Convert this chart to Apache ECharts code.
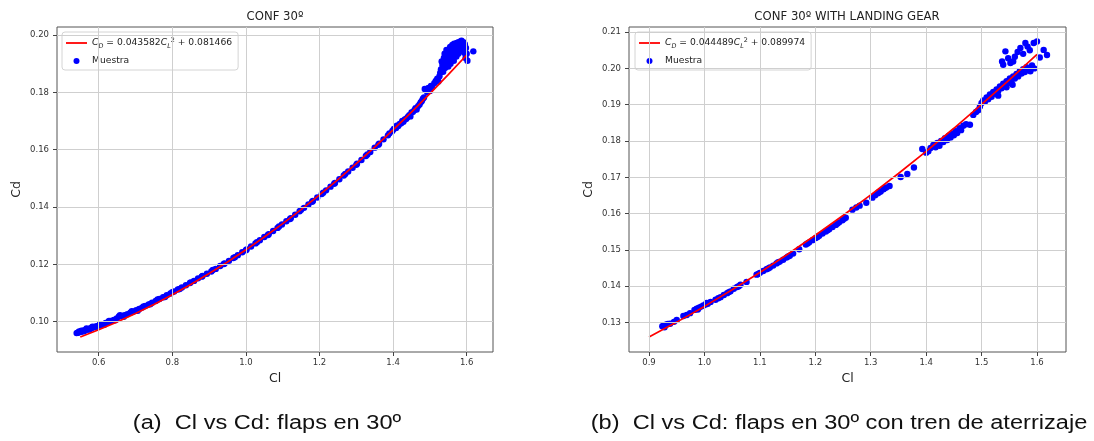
<!DOCTYPE html>
<html>
<head>
<meta charset="utf-8">
<script src="https://cdn.jsdelivr.net/npm/echarts@6/dist/echarts.min.js"></script>
<style>
html,body{margin:0;padding:0;background:#fff;}
#chart{width:1094px;height:441px;}
</style>
</head>
<body>
<div id="chart"></div>
<script>
// ---------- Titles / captions ----------
const titleA = 'CONF 30º';
const titleB = 'CONF 30º WITH LANDING GEAR';
const captionA = '(a)  Cl vs Cd: flaps en 30º';
const captionB = '(b)  Cl vs Cd: flaps en 30º con tren de aterrizaje';
const sampleName = 'Muestra';

// ---------- Fit coefficients (C_D = k*C_L^2 + c) ----------
const coefA = ['0.043582', '0.081466'];
const coefB = ['0.044489', '0.089974'];

// ---------- Tick values ----------
const xTicksA = [0.6, 0.8, 1.0, 1.2, 1.4, 1.6];
const yTicksA = [0.10, 0.12, 0.14, 0.16, 0.18, 0.20];
const xTicksB = [0.9, 1.0, 1.1, 1.2, 1.3, 1.4, 1.5, 1.6];
const yTicksB = [0.13, 0.14, 0.15, 0.16, 0.17, 0.18, 0.19, 0.20, 0.21];

// ---------- Fit line ----------
const fitClA = [0.55,0.60,0.65,0.70,0.75,0.80,0.85,0.90,0.95,1.00,1.05,1.10,1.15,1.20,1.25,1.30,1.35,1.40,1.45,1.50,1.55,1.60];
const fitCdA = [0.09465,0.09716,0.09988,0.10282,0.10598,0.10936,0.11295,0.11677,0.12080,0.12505,0.12952,0.13420,0.13910,0.14422,0.14956,0.15512,0.16089,0.16689,0.17310,0.17953,0.18617,0.19304];
const fitClB = [0.90,0.95,1.00,1.05,1.10,1.15,1.20,1.25,1.30,1.35,1.40,1.45,1.50,1.55,1.60];
const fitCdB = [0.12601,0.13013,0.13446,0.13902,0.14381,0.14881,0.15404,0.15949,0.16516,0.17106,0.17717,0.18351,0.19007,0.19686,0.20387];

// ---------- Samples [Cl, Cd] ----------
const sampleA = [
[0.540,0.0960],[0.543,0.0961],[0.546,0.0963],[0.549,0.0964],[0.552,0.0965],[0.555,0.0966],[0.558,0.0968],[0.561,0.0969],
[0.565,0.0971],[0.569,0.0973],[0.573,0.0974],[0.577,0.0976],[0.581,0.0978],[0.585,0.0980],[0.590,0.0982],[0.595,0.0984],
[0.600,0.0986],[0.606,0.0988],[0.612,0.0991],[0.619,0.0995],[0.626,0.0998],[0.633,0.1002],[0.641,0.1006],[0.649,0.1011],
[0.655,0.1018],[0.662,0.1019],[0.670,0.1022],[0.678,0.1026],[0.686,0.1031],[0.694,0.1035],[0.702,0.1040],[0.710,0.1044],
[0.718,0.1049],[0.727,0.1055],[0.736,0.1060],[0.745,0.1066],[0.755,0.1072],[0.765,0.1079],[0.775,0.1085],[0.785,0.1092],
[0.795,0.1098],[0.805,0.1105],[0.815,0.1112],[0.826,0.1119],[0.837,0.1127],[0.848,0.1135],[0.859,0.1142],[0.870,0.1151],
[0.882,0.1159],[0.894,0.1167],[0.906,0.1175],[0.918,0.1184],[0.930,0.1194],[0.942,0.1203],[0.954,0.1212],[0.966,0.1222],
[0.978,0.1232],[0.990,0.1242],[1.002,0.1252],[1.014,0.1262],[1.026,0.1273],[1.038,0.1284],[1.050,0.1295],[1.062,0.1305],
[1.074,0.1316],[1.086,0.1327],[1.098,0.1339],[1.110,0.1350],[1.122,0.1361],[1.134,0.1373],[1.146,0.1385],[1.158,0.1397],
[1.170,0.1409],[1.182,0.1421],[1.194,0.1433],[1.206,0.1445],[1.218,0.1458],[1.230,0.1471],[1.242,0.1484],[1.254,0.1497],
[1.266,0.1510],[1.278,0.1524],[1.290,0.1537],[1.302,0.1551],[1.314,0.1564],[1.326,0.1578],[1.338,0.1592],[1.350,0.1607],
[1.362,0.1621],[1.374,0.1636],[1.386,0.1650],[1.398,0.1665],
[0.547,0.0966],[0.553,0.0968],[0.560,0.0966],[0.567,0.0976],[0.575,0.0972],[0.583,0.0982],[0.592,0.0980],[0.603,0.0990],
[0.615,0.0989],[0.628,0.1002],[0.645,0.1005],[0.658,0.1022],[0.668,0.1017],[0.690,0.1036],[0.706,0.1038],[0.722,0.1053],
[0.740,0.1061],[0.760,0.1077],[0.780,0.1086],[0.800,0.1103],[0.820,0.1114],[0.850,0.1137],[0.880,0.1157],[0.910,0.1180],
[0.940,0.1201],[0.970,0.1225],[1.000,0.1249],[1.030,0.1277],[1.060,0.1302],[1.090,0.1332],[1.120,0.1358],[1.150,0.1390],
[1.180,0.1418],[1.210,0.1450],[1.240,0.1481],[1.270,0.1515],[1.300,0.1547],[1.330,0.1583],[1.360,0.1617],[1.390,0.1657],
[1.402,0.1672],[1.408,0.1676],[1.410,0.1684],[1.414,0.1683],[1.418,0.1690],[1.422,0.1692],[1.425,0.1700],[1.428,0.1697],
[1.432,0.1705],[1.436,0.1708],[1.440,0.1714],[1.444,0.1720],[1.447,0.1716],[1.450,0.1730],[1.454,0.1732],[1.458,0.1738],
[1.461,0.1745],[1.464,0.1740],[1.468,0.1752],[1.472,0.1758],[1.475,0.1765],[1.478,0.1770],[1.481,0.1778],[1.484,0.1782],
[1.486,0.1812],[1.490,0.1808],[1.493,0.1800],[1.496,0.1815],[1.500,0.1805],[1.503,0.1822],[1.506,0.1818],
[1.512,0.1832],[1.516,0.1840],[1.520,0.1848],[1.523,0.1838],[1.526,0.1856],[1.528,0.1868],[1.530,0.1880],[1.532,0.1908],
[1.534,0.1895],[1.536,0.1872],[1.538,0.1920],[1.540,0.1935],[1.541,0.1885],[1.543,0.1912],[1.545,0.1948],[1.547,0.1902],
[1.548,0.1928],[1.550,0.1890],[1.552,0.1942],[1.553,0.1915],[1.555,0.1958],[1.556,0.1900],[1.558,0.1935],[1.560,0.1922],
[1.561,0.1965],[1.563,0.1948],[1.565,0.1910],[1.566,0.1970],[1.568,0.1940],[1.570,0.1958],[1.572,0.1925],[1.573,0.1972],
[1.575,0.1950],[1.577,0.1935],[1.578,0.1975],[1.580,0.1962],[1.582,0.1945],[1.583,0.1978],[1.585,0.1958],[1.586,0.1980],
[1.588,0.1965],[1.590,0.1950],[1.591,0.1975],[1.593,0.1938],[1.595,0.1968],[1.597,0.1920],[1.598,0.1955],[1.600,0.1935],
[1.602,0.1910],[1.618,0.1943]
];
const sampleB = [
[0.924,0.1290],[0.927,0.1292],[0.930,0.1294],[0.934,0.1296],[0.938,0.1297],[0.950,0.1307],[0.962,0.1318],[0.974,0.1326],
[0.982,0.1335],[0.986,0.1338],[0.990,0.1341],[0.994,0.1344],[0.998,0.1347],[1.002,0.1350],[1.006,0.1352],[1.011,0.1357],
[1.020,0.1363],[1.029,0.1370],[1.035,0.1376],[1.041,0.1381],[1.047,0.1386],[1.053,0.1393],[1.059,0.1398],[1.065,0.1404],
[1.076,0.1412],[1.094,0.1432],[1.100,0.1437],[1.106,0.1442],[1.112,0.1447],[1.118,0.1452],[1.124,0.1457],[1.130,0.1463],
[1.136,0.1468],[1.142,0.1473],[1.148,0.1479],[1.154,0.1484],[1.160,0.1490],[1.171,0.1502],[1.183,0.1515],[1.189,0.1521],
[1.195,0.1527],[1.201,0.1533],[1.207,0.1539],[1.213,0.1545],[1.219,0.1551],[1.225,0.1557],[1.231,0.1563],[1.237,0.1569],
[1.243,0.1576],[1.249,0.1582],[1.255,0.1589],[1.267,0.1611],[1.274,0.1617],[1.280,0.1622],[1.292,0.1630],[1.303,0.1644],
[1.308,0.1651],[1.313,0.1656],[1.318,0.1661],[1.323,0.1667],[1.328,0.1672],[1.334,0.1676],[1.354,0.1701],[1.366,0.1709],
[1.378,0.1727],[1.393,0.1778],
[0.928,0.1287],[0.945,0.1302],[0.968,0.1321],[0.988,0.1336],[1.004,0.1354],[1.025,0.1367],[1.044,0.1384],[1.062,0.1400],
[1.097,0.1434],[1.115,0.1449],[1.133,0.1466],[1.151,0.1482],[1.186,0.1518],[1.204,0.1536],[1.222,0.1554],[1.240,0.1573],
[1.252,0.1586],[1.315,0.1659],[1.325,0.1670],
[1.400,0.1768],[1.404,0.1772],[1.408,0.1781],[1.413,0.1789],[1.417,0.1783],[1.420,0.1795],[1.424,0.1787],[1.427,0.1800],
[1.431,0.1797],[1.434,0.1808],[1.438,0.1803],[1.441,0.1815],[1.444,0.1810],[1.447,0.1820],[1.450,0.1816],[1.453,0.1827],
[1.456,0.1822],[1.460,0.1835],[1.463,0.1830],[1.467,0.1842],[1.472,0.1846],[1.479,0.1845],[1.485,0.1872],[1.490,0.1880],
[1.494,0.1885],[1.497,0.1895],[1.500,0.1905],[1.503,0.1912],[1.506,0.1908],[1.509,0.1920],[1.512,0.1915],[1.515,0.1928],
[1.518,0.1922],[1.521,0.1935],[1.524,0.1930],[1.527,0.1942],[1.530,0.1938],[1.533,0.1950],[1.536,0.1945],[1.539,0.1958],
[1.542,0.1952],[1.545,0.1965],[1.548,0.1960],[1.551,0.1972],[1.554,0.1968],[1.557,0.1978],[1.560,0.1972],[1.563,0.1985],
[1.566,0.1978],[1.569,0.1992],[1.572,0.1986],[1.575,0.1998],[1.578,0.1990],[1.581,0.2003],[1.584,0.1996],[1.588,0.1992],
[1.591,0.2008],[1.595,0.2000],[1.537,0.2019],[1.539,0.2010],[1.543,0.2047],[1.548,0.2028],[1.552,0.2015],[1.557,0.2019],
[1.560,0.2032],[1.565,0.2045],[1.570,0.2056],[1.575,0.2040],[1.579,0.2070],[1.583,0.2060],[1.587,0.2050],[1.594,0.2070],
[1.600,0.2074],[1.612,0.2051],[1.618,0.2037],[1.605,0.2030],[1.545,0.1948],[1.556,0.1955],[1.530,0.1925]
];

// ---------- Build option ----------
const FONT = 'DejaVu Sans';
const zip = (a, b) => a.map((v, i) => [v, b[i]]);
const gridLineColor = '#cfcfcf';

function xAxisCfg(gi, min, max, ticks) {
  return {
    gridIndex: gi, type: 'value', min: min, max: max,
    axisLine: { show: false },
    axisTick: { show: true, length: 4, customValues: ticks, lineStyle: { color: '#444', width: 1 } },
    axisLabel: { customValues: ticks, formatter: v => v.toFixed(1), fontSize: 8.5, fontFamily: FONT, color: '#333', margin: 6 },
    splitLine: { show: false },
    name: 'Cl', nameLocation: 'middle', nameGap: 20,
    nameTextStyle: { fontSize: 12.5, fontFamily: FONT, color: '#222' }
  };
}
function yAxisCfg(gi, min, max, ticks, gap) {
  return {
    gridIndex: gi, type: 'value', min: min, max: max,
    axisLine: { show: false },
    axisTick: { show: true, length: 4, customValues: ticks, lineStyle: { color: '#444', width: 1 } },
    axisLabel: { customValues: ticks, formatter: v => v.toFixed(2), fontSize: 8.5, fontFamily: FONT, color: '#333', margin: 8 },
    splitLine: { show: false },
    name: 'Cd', nameLocation: 'middle', nameGap: gap, nameRotate: 90,
    nameTextStyle: { fontSize: 12.5, fontFamily: FONT, color: '#222' }
  };
}
function gridSeries(idx, xt, yt) {
  return {
    type: 'line', xAxisIndex: idx, yAxisIndex: idx, data: [], silent: true, z: 1,
    markLine: {
      silent: true, symbol: ['none', 'none'], animation: false,
      label: { show: false },
      lineStyle: { color: gridLineColor, width: 1, type: 'solid' },
      emphasis: { disabled: true },
      data: xt.map(v => ({ xAxis: v })).concat(yt.map(v => ({ yAxis: v })))
    }
  };
}
function legendCfg(left, fitName, coef) {
  return {
    left: left, top: 32, orient: 'vertical',
    itemWidth: 21, itemHeight: 6, itemGap: 6,
    padding: [5, 6, 3, 4],
    backgroundColor: 'rgba(255,255,255,0.85)',
    borderColor: '#d4d4d4', borderWidth: 1, borderRadius: 3,
    selectedMode: false,
    data: [{ name: fitName, icon: 'path://M0,0H21V1.8H0Z' }, { name: sampleName, icon: 'circle' }],
    formatter: function (name) {
      if (name === fitName) {
        return '{it|C}{sub|D}{n| = ' + coef[0] + '}{it|C}{sub|L}{sup|2}{n| + ' + coef[1] + '}';
      }
      return '{n|' + name + '}';
    },
    textStyle: {
      fontSize: 9.2, fontFamily: FONT, color: '#222', lineHeight: 12,
      rich: {
        n: { fontSize: 9.2, fontFamily: FONT, color: '#222', lineHeight: 12 },
        it: { fontSize: 9.2, fontFamily: FONT, fontStyle: 'italic', color: '#222', lineHeight: 12 },
        sub: { fontSize: 6.4, fontFamily: FONT, fontStyle: 'italic', color: '#222', lineHeight: 6, verticalAlign: 'bottom' },
        sup: { fontSize: 6.4, fontFamily: FONT, color: '#222', lineHeight: 6, verticalAlign: 'top' }
      }
    }
  };
}
function fitSeries(idx, name, cl, cd) {
  return {
    name: name, type: 'line', xAxisIndex: idx, yAxisIndex: idx, data: zip(cl, cd),
    showSymbol: false, symbol: 'none', smooth: false, z: 4,
    lineStyle: { color: '#ff0000', width: 1.7 }, itemStyle: { color: '#ff0000' },
    emphasis: { disabled: true }
  };
}
function sampleSeries(idx, data) {
  return {
    name: sampleName, type: 'scatter', xAxisIndex: idx, yAxisIndex: idx, data: data,
    symbol: 'circle', symbolSize: 6.4, z: 3,
    itemStyle: { color: '#0000ff', opacity: 1 },
    emphasis: { disabled: true }
  };
}

const chart = echarts.init(document.getElementById('chart'), null, { renderer: 'canvas' });
const option = {
  animation: false,
  backgroundColor: '#ffffff',
  grid: [
    { left: 57, top: 27, width: 436, height: 325, show: true, borderColor: '#555', borderWidth: 1, backgroundColor: 'transparent', containLabel: false },
    { left: 629, top: 27, width: 437, height: 325, show: true, borderColor: '#555', borderWidth: 1, backgroundColor: 'transparent', containLabel: false }
  ],
  xAxis: [xAxisCfg(0, 0.4867, 1.6715, xTicksA), xAxisCfg(1, 0.8639, 1.6523, xTicksB)],
  yAxis: [yAxisCfg(0, 0.0894, 0.2028, yTicksA, 34), yAxisCfg(1, 0.1219, 0.2114, yTicksB, 34)],
  legend: [legendCfg(62, 'fitA', coefA), legendCfg(635, 'fitB', coefB)],
  series: [
    gridSeries(0, xTicksA, yTicksA),
    gridSeries(1, xTicksB, yTicksB),
    sampleSeries(0, sampleA),
    fitSeries(0, 'fitA', fitClA, fitCdA),
    sampleSeries(1, sampleB),
    fitSeries(1, 'fitB', fitClB, fitCdB)
  ],
  graphic: [
    { type: 'text', x: 275, y: 17, silent: true, style: { text: titleA, fill: '#222', font: '11.7px "DejaVu Sans"', align: 'center', verticalAlign: 'middle' } },
    { type: 'text', x: 847, y: 17, silent: true, style: { text: titleB, fill: '#222', font: '11.7px "DejaVu Sans"', align: 'center', verticalAlign: 'middle' } },
    { type: 'text', x: 267, y: 423, scaleX: 1.18, silent: true, style: { text: captionA, fill: '#111', font: '20px "Liberation Sans"', align: 'center', verticalAlign: 'middle' } },
    { type: 'text', x: 839, y: 423, scaleX: 1.18, silent: true, style: { text: captionB, fill: '#111', font: '20px "Liberation Sans"', align: 'center', verticalAlign: 'middle' } }
  ]
};
chart.setOption(option);
</script>
</body>
</html>
